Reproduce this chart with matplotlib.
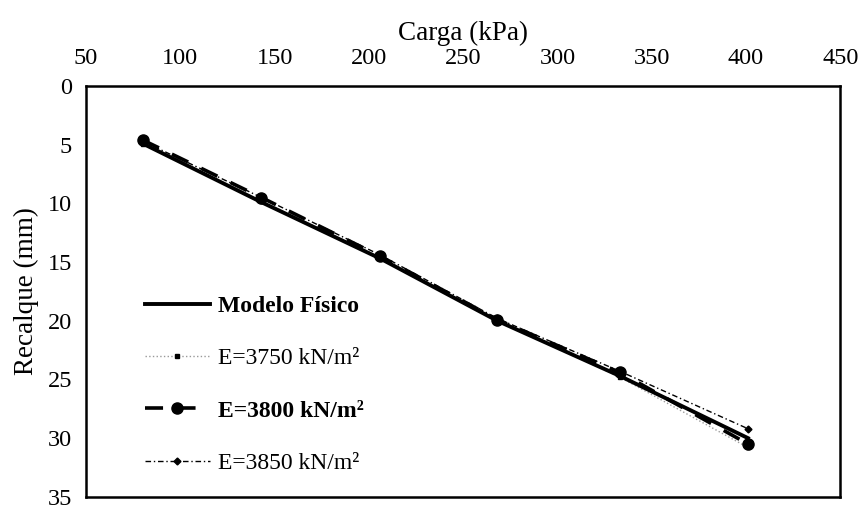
import matplotlib
matplotlib.use('Agg')
import matplotlib.pyplot as plt

# load (kPa) and settlement (mm)
carga = [80, 143, 206, 268, 333, 401]
modelo_fisico = [4.9, 9.9, 14.7, 20.0, 24.7, 30.0]
e3750 = [4.9, 9.8, 14.6, 19.9, 24.8, 30.8]
e3800 = [4.6, 9.5, 14.5, 19.9, 24.4, 30.5]
e3850 = [4.7, 9.5, 14.4, 19.8, 24.3, 29.2]

xticks = [50, 100, 150, 200, 250, 300, 350, 400, 450]
yticks = [0, 5, 10, 15, 20, 25, 30, 35]

plt.rcParams['font.family'] = ['Liberation Serif', 'DejaVu Serif']

fig = plt.figure(figsize=(8.61, 5.09), dpi=100)
ax = fig.add_axes([0.1, 0.024, 0.876, 0.807])

ax.plot(carga, e3750, color='#999999', linestyle=':', linewidth=1.0,
        marker='s', markersize=3, markerfacecolor='black', markeredgecolor='black',
        label='E=3750 kN/m²', zorder=2)
ax.plot(carga, e3850, color='black', linestyle=(0, (4, 2, 1, 2)), linewidth=1.0,
        marker='D', markersize=3.5, label='E=3850 kN/m²', zorder=3)
ax.plot(carga, modelo_fisico, color='black', linestyle='-', linewidth=2.8,
        label='Modelo Físico', zorder=4)
ax.plot(carga, e3800, color='black', linestyle=(0, (5, 4)), linewidth=2.6,
        marker='o', markersize=8, label='E=3800 kN/m²', zorder=5)

ax.set_xlim(50, 450)
ax.set_ylim(35, 0)
ax.set_xticks(xticks)
ax.set_yticks(yticks)
ax.xaxis.tick_top()
ax.xaxis.set_label_position('top')
ax.tick_params(axis='both', length=0, labelsize=17.5)
ax.tick_params(axis='x', pad=12)
ax.tick_params(axis='y', pad=10)
ax.set_xlabel('Carga (kPa)', fontsize=19.5, labelpad=6)
ax.set_ylabel('Recalque (mm)', fontsize=19.5, labelpad=6)

for s in ax.spines.values():
    s.set_linewidth(1.8)

handles, labels = ax.get_legend_handles_labels()
order = [labels.index(l) for l in ['Modelo Físico', 'E=3750 kN/m²', 'E=3800 kN/m²', 'E=3850 kN/m²']]
leg = ax.legend([handles[i] for i in order], [labels[i] for i in order],
                loc='lower left', bbox_to_anchor=(0.078, 0.056), frameon=False,
                borderpad=0, borderaxespad=0,
                fontsize=17, handlelength=2.75, labelspacing=1.3, handletextpad=0.35)
for t in leg.get_texts():
    if t.get_text() in ('Modelo Físico', 'E=3800 kN/m²'):
        t.set_fontweight('bold')

fig.savefig('out.png', dpi=100)
